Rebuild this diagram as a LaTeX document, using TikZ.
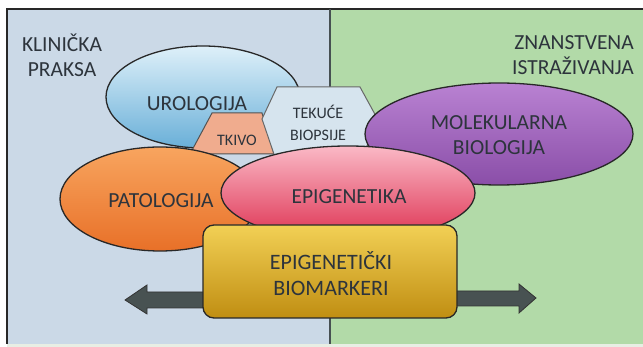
\documentclass[tikz,border=0pt]{standalone}
\usepackage{fontspec}
\setmainfont{Carlito}
\usetikzlibrary{shapes.geometric}
\definecolor{txt}{RGB}{45,52,60}
\definecolor{bluebg}{RGB}{203,217,231}
\definecolor{greenbg}{RGB}{178,218,168}
\definecolor{bottomstrip}{RGB}{232,238,228}
\definecolor{outl}{RGB}{40,40,40}
\definecolor{sepc}{RGB}{70,80,82}
\definecolor{arrowc}{RGB}{72,82,82}
\tikzset{
  lbl/.style={text=txt, font=\fontsize{21.5}{25}\selectfont, align=center, inner sep=0pt},
  small/.style={text=txt, font=\fontsize{16}{20}\selectfont, align=center, inner sep=0pt},
  oval/.style={ellipse, draw=outl, line width=1.3pt, inner sep=0pt},
  bigarrow/.style={fill=arrowc, draw=black!80, line width=0.8pt, line join=miter},
}
\begin{document}
\begin{tikzpicture}[x=1pt,y=-1pt]
\useasboundingbox (0,0) rectangle (643,347);
\fill[white] (0,0) rectangle (643,347);
% panels
\fill[bluebg] (7,9) rectangle (330,344);
\fill[greenbg] (330,9) rectangle (643,344);
\fill[bottomstrip] (7,344) rectangle (643,347);
\draw[outl, line width=1.3pt] (7,344) -- (7,9) -- (643,9);
\draw[sepc, line width=1.6pt] (330,9) -- (330,344);
% corner labels
\node[lbl] (klin) at (62,55) {KLINIČKA\\PRAKSA};
\node[lbl, anchor=east, align=right] (znan) at (634,55) {ZNANSTVENA\\ISTRAŽIVANJA};
% urologija
\node[oval, minimum width=194pt, minimum height=102pt,
      top color={rgb,255:red,222;green,240;blue,249}, bottom color={rgb,255:red,105;green,175;blue,216}] (uro) at (203,97) {};
\node[lbl] (urot) at (197,104) {UROLOGIJA};
% tkivo
\filldraw[fill={rgb,255:red,240;green,172;blue,142}, draw=outl!80, line width=1pt]
  (212,113) coordinate (tk1) -- (262,113) coordinate (tk2) -- (274,154) coordinate (tk3) -- (190,154) coordinate (tk4) -- cycle;
\node[small] (tkivo) at (237,140) {TKIVO};
% tekuce biopsije
\filldraw[fill={rgb,255:red,214;green,228;blue,238}, draw=outl!70, line width=1pt]
  (277,87) coordinate (h1) -- (360,87) coordinate (h2) -- (377,118) coordinate (h3) -- (362,160) coordinate (h4) -- (276,160) coordinate (h5) -- (262,119) coordinate (h6) -- cycle;
\node[small] (tek) at (318,123) {TEKUĆE\\[2pt]BIOPSIJE};
% molekularna
\node[oval, minimum width=268pt, minimum height=102pt,
      top color={rgb,255:red,185;green,130;blue,210}, bottom color={rgb,255:red,138;green,78;blue,168}] (mol) at (499,134) {};
\node[lbl] (molt) at (499,135) {MOLEKULARNA\\BIOLOGIJA};
% patologija
\node[oval, minimum width=200pt, minimum height=104pt,
      top color={rgb,255:red,248;green,165;blue,95}, bottom color={rgb,255:red,232;green,112;blue,40}] (pat) at (160,199) {};
\node[lbl] (patt) at (161,201) {PATOLOGIJA};
% epigenetika
\node[oval, minimum width=254pt, minimum height=94pt,
      top color={rgb,255:red,250;green,185;blue,198}, bottom color={rgb,255:red,222;green,50;blue,82}] (epi) at (348,193) {};
\node[lbl] (epit) at (349,197) {EPIGENETIKA};
% arrows
\filldraw[bigarrow] (250,292) -- (147,292) -- (147,285) -- (125,300) coordinate (la) -- (147,314) -- (147,308) -- (250,308) -- cycle;
\filldraw[bigarrow] (420,291) -- (519,291) -- (519,284) -- (536,298) coordinate (ra) -- (519,313) -- (519,306) -- (420,306) -- cycle;
% biomarkeri box
\node[draw=outl, line width=1.3pt, rounded corners=11pt, minimum width=254pt, minimum height=93pt,
      top color={rgb,255:red,242;green,208;blue,85}, bottom color={rgb,255:red,192;green,142;blue,18}] (box) at (330,271.5) {};
\node[text=txt, font=\fontsize{22}{26}\selectfont, align=center, inner sep=0pt] (boxt) at (331,274) {EPIGENETIČKI\\BIOMARKERI};
\end{tikzpicture}
\end{document}
